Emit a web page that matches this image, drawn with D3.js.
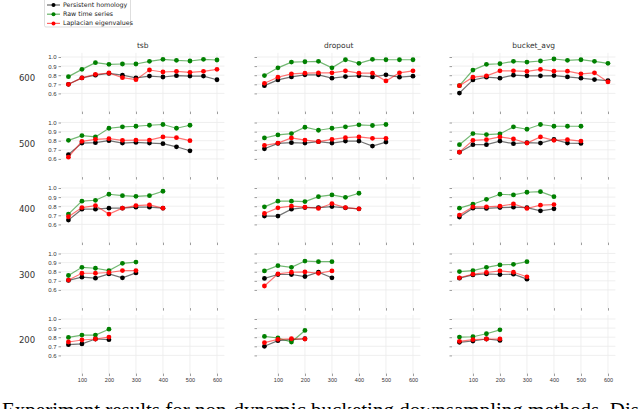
<!DOCTYPE html>
<html>
<head>
<meta charset="utf-8">
<script src="https://cdn.jsdelivr.net/npm/d3@7"></script>
<style>
  body { margin: 0; background: #fff; }
  svg { display: block; }
</style>
</head>
<body>
<div id="chart"></div>
<script>
// =======================
// GRID OF LINE CHARTS
// accuracy vs. sample count, by downsampling method and series length
// =======================

const rowSizes = [600, 500, 400, 300, 200];
const methods = ["tsb", "dropout", "bucket_avg"];
const xValues = [50, 100, 150, 200, 250, 300, 350, 400, 450, 500, 550, 600];
const xTicks = [100, 200, 300, 400, 500, 600];
const yTicks = [0.6, 0.7, 0.8, 0.9, 1.0];
const seriesNames = ["Persistent homology", "Raw time series", "Laplacian eigenvalues"];
const seriesColors = ["#000000", "#008000", "#ff0000"];

// one list per row (600, 500, 400, 300, 200)
const homologyTsb = [
  [0.70, 0.77, 0.80, 0.82, 0.80, 0.77, 0.79, 0.78, 0.795, 0.79, 0.79, 0.75],
  [0.648, 0.774, 0.778, 0.80, 0.774, 0.781, 0.774, 0.767, 0.733, 0.689],
  [0.647, 0.767, 0.767, 0.778, 0.778, 0.789, 0.789, 0.778],
  [0.704, 0.740, 0.729, 0.776, 0.733, 0.787],
  [0.718, 0.726, 0.780, 0.773]
];
const rawTsb = [
  [0.784, 0.864, 0.938, 0.919, 0.923, 0.923, 0.952, 0.974, 0.963, 0.956, 0.974, 0.967],
  [0.804, 0.856, 0.841, 0.937, 0.952, 0.959, 0.970, 0.978, 0.937, 0.970],
  [0.713, 0.855, 0.865, 0.931, 0.916, 0.909, 0.916, 0.964],
  [0.758, 0.848, 0.838, 0.812, 0.892, 0.906],
  [0.798, 0.823, 0.823, 0.888]
];
const laplacianTsb = [
  [0.70, 0.77, 0.81, 0.824, 0.773, 0.751, 0.857, 0.835, 0.842, 0.832, 0.842, 0.864],
  [0.619, 0.793, 0.815, 0.822, 0.804, 0.807, 0.807, 0.841, 0.833, 0.80],
  [0.684, 0.785, 0.807, 0.713, 0.778, 0.807, 0.815, 0.778],
  [0.708, 0.783, 0.783, 0.791, 0.812, 0.812],
  [0.747, 0.769, 0.780, 0.801]
];

const homologyDropout = [
  [0.685, 0.748, 0.781, 0.804, 0.804, 0.767, 0.785, 0.793, 0.781, 0.804, 0.778, 0.789],
  [0.711, 0.770, 0.778, 0.774, 0.789, 0.774, 0.796, 0.796, 0.741, 0.785],
  [0.691, 0.691, 0.767, 0.785, 0.785, 0.796, 0.782, 0.771],
  [0.726, 0.769, 0.769, 0.747, 0.794, 0.733],
  [0.700, 0.762, 0.773, 0.783]
];
const rawDropout = [
  [0.796, 0.881, 0.944, 0.948, 0.952, 0.881, 0.970, 0.930, 0.974, 0.970, 0.970, 0.970],
  [0.830, 0.863, 0.878, 0.948, 0.915, 0.937, 0.952, 0.974, 0.967, 0.978],
  [0.793, 0.855, 0.855, 0.851, 0.905, 0.924, 0.898, 0.942],
  [0.809, 0.866, 0.848, 0.917, 0.910, 0.910],
  [0.809, 0.791, 0.747, 0.874]
];
const laplacianDropout = [
  [0.711, 0.778, 0.815, 0.822, 0.826, 0.826, 0.848, 0.822, 0.822, 0.737, 0.826, 0.848],
  [0.748, 0.774, 0.830, 0.807, 0.789, 0.815, 0.833, 0.841, 0.826, 0.826],
  [0.720, 0.782, 0.800, 0.789, 0.775, 0.829, 0.785, 0.771],
  [0.643, 0.776, 0.794, 0.798, 0.783, 0.809],
  [0.740, 0.776, 0.783, 0.780]
];

const homologyBucket = [
  [0.604, 0.748, 0.778, 0.767, 0.800, 0.793, 0.793, 0.796, 0.781, 0.767, 0.752, 0.741],
  [0.674, 0.756, 0.756, 0.796, 0.767, 0.778, 0.774, 0.815, 0.774, 0.770],
  [0.680, 0.778, 0.775, 0.785, 0.789, 0.785, 0.749, 0.771],
  [0.729, 0.765, 0.776, 0.769, 0.773, 0.718],
  [0.744, 0.758, 0.780, 0.765]
];
const rawBucket = [
  [0.685, 0.856, 0.919, 0.926, 0.952, 0.944, 0.956, 0.978, 0.963, 0.970, 0.952, 0.930],
  [0.756, 0.878, 0.867, 0.874, 0.952, 0.926, 0.978, 0.959, 0.959, 0.959],
  [0.778, 0.822, 0.876, 0.931, 0.924, 0.953, 0.960, 0.905],
  [0.801, 0.812, 0.848, 0.874, 0.881, 0.910],
  [0.801, 0.805, 0.838, 0.881]
];
const laplacianBucket = [
  [0.685, 0.778, 0.793, 0.848, 0.848, 0.841, 0.863, 0.844, 0.844, 0.815, 0.826, 0.726],
  [0.674, 0.804, 0.811, 0.841, 0.819, 0.774, 0.841, 0.804, 0.811, 0.796],
  [0.702, 0.793, 0.793, 0.800, 0.825, 0.775, 0.811, 0.818],
  [0.733, 0.773, 0.791, 0.809, 0.794, 0.744],
  [0.755, 0.773, 0.780, 0.780]
];

const panelData = {
  tsb: [homologyTsb, rawTsb, laplacianTsb],
  dropout: [homologyDropout, rawDropout, laplacianDropout],
  bucket_avg: [homologyBucket, rawBucket, laplacianBucket]
};

const width = 640, height = 409;
const colLeft = [61, 257, 452];     // left edge of each panel
const panelW = 163.4;
const rowTop = 52.9, rowStep = 65.5, panelH = 58.7;

const svg = d3.select("#chart")
  .append("svg")
    .attr("width", width)
    .attr("height", height)
    .style("font-family", "'DejaVu Sans', sans-serif");

methods.forEach((method, c) => {
  rowSizes.forEach((size, r) => {
    const top = rowTop + r * rowStep;

    const x = d3.scaleLinear()
      .domain([22.5, 627.5])
      .range([colLeft[c], colLeft[c] + panelW]);

    const y = d3.scaleLinear()
      .domain([0.4, 1.045])
      .range([top + panelH, top]);

    const g = svg.append("g");

    // grid
    g.selectAll(".vgrid")
      .data(xTicks)
      .enter().append("line")
        .attr("x1", d => x(d)).attr("x2", d => x(d))
        .attr("y1", top).attr("y2", top + panelH)
        .attr("stroke", "#ebebeb")
        .attr("stroke-width", 0.8);

    g.selectAll(".hgrid")
      .data(yTicks)
      .enter().append("line")
        .attr("x1", colLeft[c]).attr("x2", colLeft[c] + panelW)
        .attr("y1", d => y(d)).attr("y2", d => y(d))
        .attr("stroke", "#ebebeb")
        .attr("stroke-width", 0.8);

    // axes (no spines, small ticks)
    const xAxis = g.append("g")
      .attr("transform", `translate(0,${top + panelH})`)
      .call(d3.axisBottom(x).tickValues(xTicks).tickSize(2.5).tickPadding(2)
        .tickFormat(r === rowSizes.length - 1 ? d3.format("d") : ""));
    xAxis.select(".domain").remove();
    xAxis.selectAll("line").attr("stroke", "#555").attr("stroke-width", 0.6);
    xAxis.selectAll("text").attr("fill", "#333").style("font-size", "5.5px");

    const yAxis = g.append("g")
      .attr("transform", `translate(${colLeft[c]},0)`)
      .call(d3.axisLeft(y).tickValues(yTicks).tickSize(2.5).tickPadding(2)
        .tickFormat(c === 0 ? d3.format(".1f") : ""));
    yAxis.select(".domain").remove();
    yAxis.selectAll("line").attr("stroke", "#555").attr("stroke-width", 0.6);
    yAxis.selectAll("text").attr("fill", "#333").style("font-size", "6px");

    // lines + markers
    const line = d3.line()
      .x((d, i) => x(xValues[i]))
      .y(d => y(d));

    panelData[method].forEach((series, s) => {
      const vals = series[r];
      g.append("path")
        .datum(vals)
        .attr("fill", "none")
        .attr("stroke", seriesColors[s])
        .attr("stroke-opacity", 0.55)
        .attr("stroke-width", 1.2)
        .attr("d", line);

      g.selectAll(".pt" + s)
        .data(vals)
        .enter().append("circle")
          .attr("cx", (d, i) => x(xValues[i]))
          .attr("cy", d => y(d))
          .attr("r", 2.4)
          .attr("fill", seriesColors[s]);
    });

    // column titles
    if (r === 0) {
      svg.append("text")
        .attr("x", colLeft[c] + panelW / 2)
        .attr("y", top - 5)
        .attr("text-anchor", "middle")
        .attr("fill", "#333")
        .style("font-size", "7.5px")
        .text(method);
    }

    // row labels
    if (c === 0) {
      svg.append("text")
        .attr("x", 27)
        .attr("y", top + 26)
        .attr("text-anchor", "middle")
        .attr("dominant-baseline", "middle")
        .attr("fill", "#333")
        .style("font-size", "8.5px")
        .text(size);
    }
  });
});

// Legend
const legend = svg.append("g");
legend.append("rect")
  .attr("x", 44.5).attr("y", -3)
  .attr("width", 86).attr("height", 30)
  .attr("rx", 1.5)
  .attr("fill", "#fff")
  .attr("stroke", "#d0d0d0")
  .attr("stroke-width", 0.7);

seriesNames.forEach((name, i) => {
  const ly = 5 + i * 9.2;
  legend.append("line")
    .attr("x1", 47).attr("x2", 60)
    .attr("y1", ly).attr("y2", ly)
    .attr("stroke", seriesColors[i])
    .attr("stroke-opacity", 0.6)
    .attr("stroke-width", 1.2);
  legend.append("circle")
    .attr("cx", 53.5).attr("cy", ly)
    .attr("r", 2)
    .attr("fill", seriesColors[i]);
  legend.append("text")
    .attr("x", 63).attr("y", ly)
    .attr("dominant-baseline", "middle")
    .attr("fill", "#222")
    .style("font-size", "6.3px")
    .text(name);
});

// Caption (cut off at the bottom edge, as in the source page)
svg.append("text")
  .attr("x", 2)
  .attr("y", 417)
  .attr("fill", "#000")
  .style("font-family", "'Liberation Serif', 'Times New Roman', serif")
  .style("font-size", "21px")
  .text("Experiment results for non-dynamic bucketing downsampling methods. Dis");
</script>
</body>
</html>
